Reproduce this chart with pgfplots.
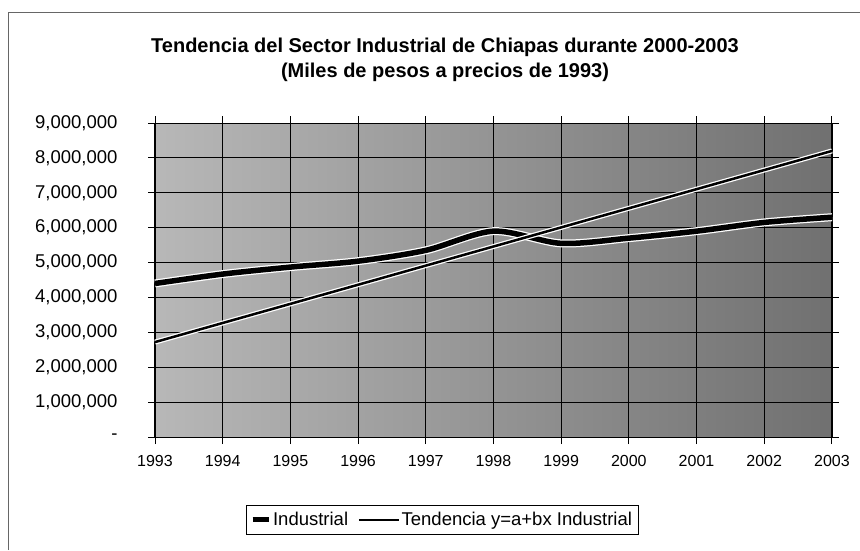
\documentclass[border=0pt]{standalone}
\usepackage{pgfplots}
\pgfplotsset{compat=1.18}
\usepackage{fontspec}
\setmainfont{Liberation Sans}
\pgfplotsset{
  legind/.style={legend image code/.code={\draw[black, line width=5pt] (0pt,0pt) -- (16pt,0pt);}},
  legtrend/.style={legend image code/.code={\draw[black, line width=1.5pt] (0pt,0pt) -- (40pt,0pt);}},
}
\begin{document}
\begin{tikzpicture}
\path[use as bounding box] (0pt,0pt) rectangle (860pt,550pt);
\draw[black!60, line width=0.8pt] (8pt,0pt) -- (8pt,538pt) -- (860pt,538pt);
\node[font=\fontsize{20}{24.5}\selectfont\bfseries, align=center] at (445pt,490pt)
  {Tendencia del Sector Industrial de Chiapas durante 2000-2003\\(Miles de pesos a precios de 1993)};
\begin{axis}[
  at={(155pt,113pt)}, anchor=south west,
  scale only axis, width=677pt, height=314pt,
  xmin=1993, xmax=2003, ymin=0, ymax=9000000,
  xtick={1993,...,2003},
  xticklabels={1993,1994,1995,1996,1997,1998,1999,2000,2001,2002,2003},
  ytick={0,1000000,...,9000000},
  yticklabels={-,{1,000,000},{2,000,000},{3,000,000},{4,000,000},{5,000,000},{6,000,000},{7,000,000},{8,000,000},{9,000,000}},
  scaled y ticks=false,
  tick align=outside, major tick length=7pt,
  tick style={black, line width=0.9pt},
  grid=major, grid style={black, line width=0.9pt},
  axis line style={black, line width=1pt},
  axis background/.style={left color=black!28, right color=black!56},
  yticklabel style={font=\fontsize{18.5}{20}\selectfont, xshift=-27pt},
  xticklabel style={font=\fontsize{16}{18}\selectfont, yshift=-8pt},
  legend style={at={(0.424,-0.264)}, anchor=center, draw=black, line width=0.6pt,
    font=\fontsize{18.5}{21}\selectfont, legend columns=2,
    /tikz/every even column/.append style={column sep=8pt}, inner ysep=5pt, inner xsep=4pt},
  legend cell align=left,
  clip=false,
]
\addplot[white, line width=8pt, smooth, forget plot] coordinates {
(1993,4400000) (1994,4670000) (1995,4870000) (1996,5040000) (1997,5350000)
(1998,5900000) (1999,5550000) (2000,5700000) (2001,5900000) (2002,6150000) (2003,6300000)};
\addplot[black, line width=5.5pt, smooth, legind] coordinates {
(1993,4400000) (1994,4670000) (1995,4870000) (1996,5040000) (1997,5350000)
(1998,5900000) (1999,5550000) (2000,5700000) (2001,5900000) (2002,6150000) (2003,6300000)};
\addlegendentry{Industrial}
\addplot[white, line width=5pt, forget plot] coordinates {
(1993,2720000) (1994,3268000) (1995,3816000) (1996,4364000) (1997,4912000)
(1998,5460000) (1999,6008000) (2000,6556000) (2001,7104000) (2002,7652000) (2003,8200000)};
\addplot[black, line width=2.5pt, legtrend] coordinates {
(1993,2720000) (1994,3268000) (1995,3816000) (1996,4364000) (1997,4912000)
(1998,5460000) (1999,6008000) (2000,6556000) (2001,7104000) (2002,7652000) (2003,8200000)};
\addlegendentry{Tendencia y=a+bx Industrial}
\end{axis}
\end{tikzpicture}
\end{document}
